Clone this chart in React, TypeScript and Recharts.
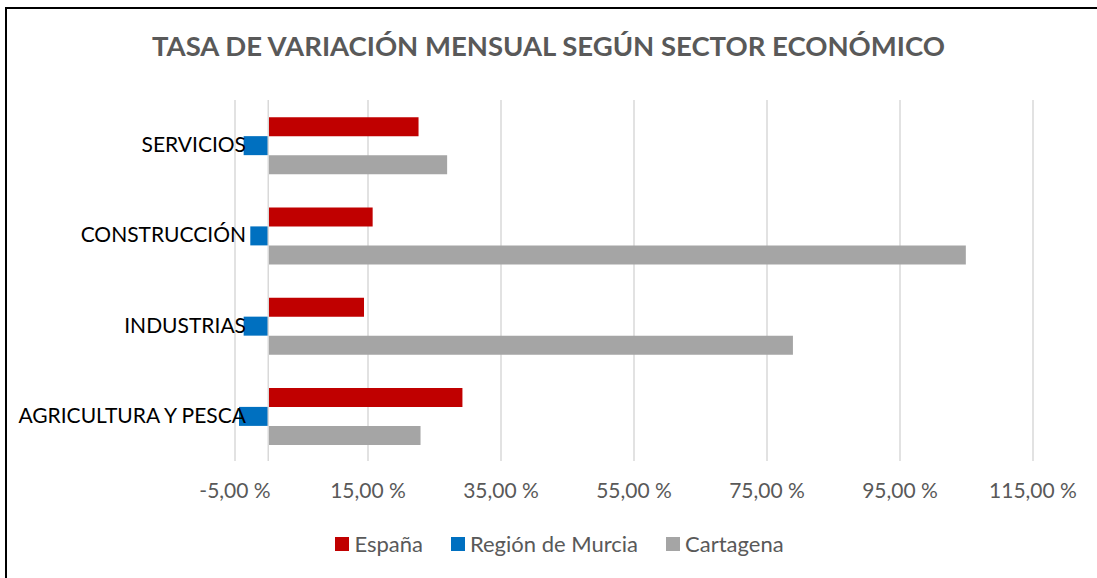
import React from 'react';
import { BarChart, Bar, XAxis, YAxis, CartesianGrid, ReferenceLine, Legend } from 'recharts';

const sectores = ['SERVICIOS', 'CONSTRUCCIÓN', 'INDUSTRIAS', 'AGRICULTURA Y PESCA'];
const espana = [22.6, 15.7, 14.4, 29.2];
const murcia = [-3.7, -2.7, -3.7, -4.4];
const cartagena = [26.9, 104.9, 78.9, 22.9];
const xTicks = [-5, 15, 35, 55, 75, 95, 115];

const series = [
  { key: 'espana', name: 'España', color: '#C00000' },
  { key: 'murcia', name: 'Región de Murcia', color: '#0070C0' },
  { key: 'cartagena', name: 'Cartagena', color: '#A5A5A5' },
];

const data = sectores.map((s, i) => ({
  sector: s,
  espana: espana[i],
  murcia: murcia[i],
  cartagena: cartagena[i],
}));

const FONT = 'Lato, "Open Sans", sans-serif';

const fmt = (v: number) => v.toFixed(2).replace('.', ',') + ' %';

const XTick = (props: any) => {
  const { x, y, payload } = props;
  return (
    <text x={x} y={y} dy={29} textAnchor="middle" fill="#595959" fontSize={21} fontFamily={FONT}>
      {fmt(payload.value)}
    </text>
  );
};

const YTick = (props: any) => {
  const { x, y, payload } = props;
  return (
    <text x={x + 19} y={y} dy={7} textAnchor="end" fill="#000" fontSize={21} fontFamily={FONT}>
      {payload.value}
    </text>
  );
};

const LegendContent = () => (
  <div style={{ display: 'flex', justifyContent: 'center', paddingLeft: 22, fontFamily: FONT, fontSize: 22, color: '#595959' }}>
    {series.map((s) => (
      <div key={s.key} style={{ display: 'flex', alignItems: 'center', margin: '0 14px' }}>
        <span style={{ width: 14, height: 14, background: s.color, display: 'inline-block', marginRight: 5 }} />
        <span>{s.name}</span>
      </div>
    ))}
  </div>
);

export default function App() {
  return (
    <div style={{ position: 'absolute', top: 0, left: 0, width: 1097, height: 578, background: '#fff', overflow: 'hidden' }}>
      <div
        style={{
          position: 'absolute',
          left: 5,
          top: 7,
          width: 1100,
          height: 580,
          borderTop: '2px solid #000',
          borderLeft: '2px solid #000',
          zIndex: 2,
        }}
      />
      <div
        style={{
          position: 'absolute',
          top: 29,
          left: 0,
          width: 1097,
          textAlign: 'center',
          fontFamily: FONT,
          fontWeight: 700,
          fontSize: 27.5,
          color: '#595959',
        }}
      >
        TASA DE VARIACIÓN MENSUAL SEGÚN SECTOR ECONÓMICO
      </div>
      <div style={{ position: 'absolute', top: 0, left: 0 }}>
        <BarChart
          width={1097}
          height={578}
          data={data}
          layout="vertical"
          margin={{ top: 100, right: 64, bottom: 50, left: 0 }}
          barCategoryGap="19%"
          barGap={0}
        >
          <CartesianGrid horizontal={false} stroke="#D9D9D9" strokeWidth={1.5} />
          <XAxis
            type="number"
            domain={[-5, 115]}
            ticks={xTicks}
            axisLine={false}
            tickLine={false}
            tick={<XTick />}
            height={40}
            interval={0}
          />
          <YAxis
            type="category"
            dataKey="sector"
            width={235}
            axisLine={false}
            tickLine={false}
            tick={<YTick />}
            interval={0}
          />
          <ReferenceLine x={0} stroke="#D9D9D9" strokeWidth={1.5} />
          {series.map((s) => (
            <Bar key={s.key} dataKey={s.key} name={s.name} fill={s.color} isAnimationActive={false} />
          ))}
          <Legend
            content={<LegendContent />}
            wrapperStyle={{ position: 'absolute', top: 530, left: 0, width: 1097, bottom: 'auto' }}
          />
        </BarChart>
      </div>
    </div>
  );
}
